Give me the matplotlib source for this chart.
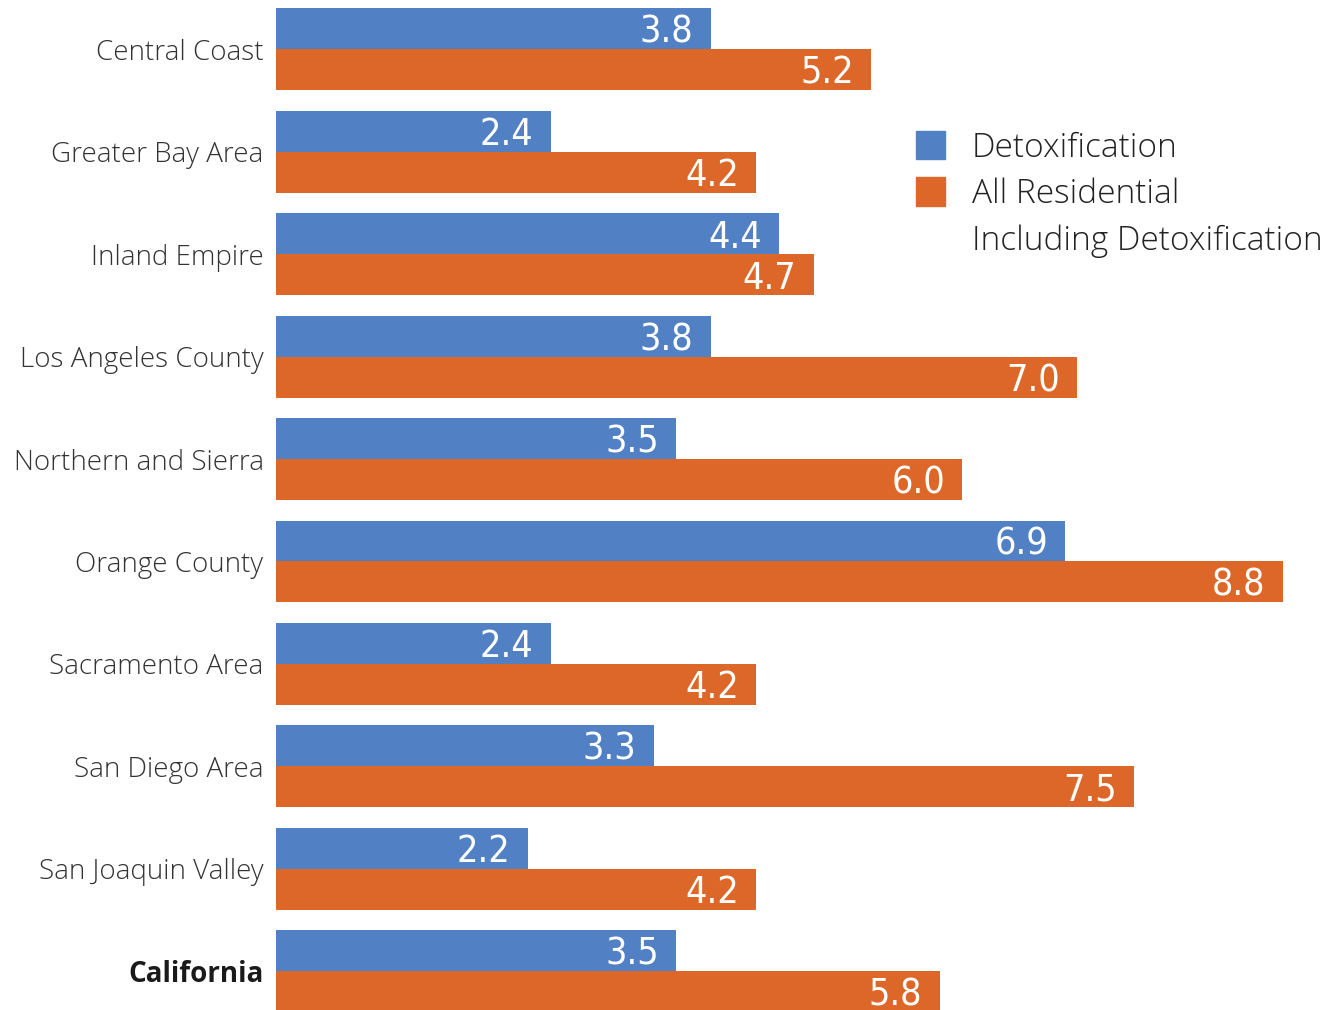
import numpy as np
import matplotlib.pyplot as plt
from matplotlib.patches import Rectangle

# Data
regions = [
    "Central Coast", "Greater Bay Area", "Inland Empire", "Los Angeles County",
    "Northern and Sierra", "Orange County", "Sacramento Area", "San Diego Area",
    "San Joaquin Valley", "California",
]
detox = [3.8, 2.4, 4.4, 3.8, 3.5, 6.9, 2.4, 3.3, 2.2, 3.5]
all_residential = [5.2, 4.2, 4.7, 7.0, 6.0, 8.8, 4.2, 7.5, 4.2, 5.8]

series_names = ["Detoxification", "All Residential\nIncluding Detoxification"]
colors = ["#5181C4", "#DD6728"]

label_font = ["Open Sans", "DejaVu Sans"]
value_font = ["DejaVu Sans"]

fig = plt.figure(figsize=(13.28, 10.10), dpi=100)
ax = fig.add_axes([276 / 1328, 0, 1 - 276 / 1328, 1])

y = np.arange(len(regions))
h = 0.4
ax.barh(y - h / 2, detox, height=h, color=colors[0])
ax.barh(y + h / 2, all_residential, height=h, color=colors[1])

# value labels inside the bar ends
for yi, v in zip(y, detox):
    ax.text(v - 0.15, yi - h / 2, f"{v:.1f}", ha="right", va="center_baseline",
            color="white", fontsize=27, family=value_font, fontstretch="condensed")
for yi, v in zip(y, all_residential):
    ax.text(v - 0.15, yi + h / 2, f"{v:.1f}", ha="right", va="center_baseline",
            color="white", fontsize=27, family=value_font, fontstretch="condensed")

ax.set_xlim(0, (1328 - 276) / 114.4)
ax.set_ylim(9.38, -0.483)
ax.set_yticks(y)
ax.set_yticklabels(regions, fontsize=20, color="#333333", family=label_font,
                   fontweight="light")
ax.get_yticklabels()[-1].set_fontweight("bold")
ax.get_yticklabels()[-1].set_color("#1a1a1a")
ax.tick_params(axis="y", length=0, pad=9)
ax.set_xticks([])
for s in ax.spines.values():
    s.set_visible(False)

# legend drawn by hand so the orange square sits on the first line
leg_x = 916 / 1328
line_y = 145
for name, c in zip(series_names, colors):
    fig.patches.append(Rectangle((leg_x, 1 - (line_y + 14) / 1010), 29 / 1328, 28 / 1010,
                                 transform=fig.transFigure, color=c))
    for line in name.split("\n"):
        fig.text(972 / 1328, 1 - (line_y + 3) / 1010, line, ha="left", va="center",
                 fontsize=24, color="#222222", family=label_font, fontweight="light")
        line_y += 46.5

fig.savefig("out.png", dpi=100)
